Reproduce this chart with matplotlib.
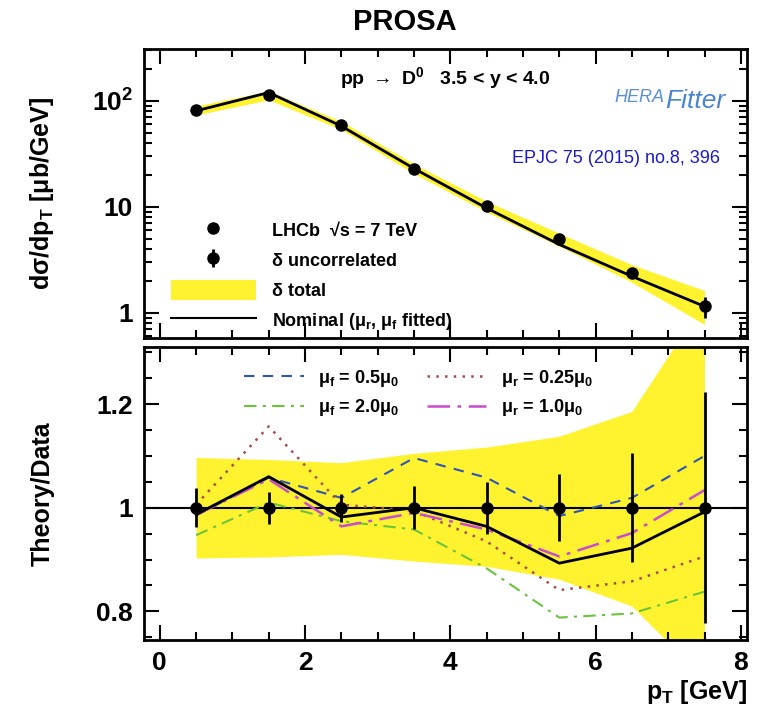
import matplotlib
matplotlib.use("Agg")
import matplotlib.pyplot as plt
from matplotlib.lines import Line2D
from matplotlib.patches import Patch
from matplotlib.ticker import MultipleLocator, FixedLocator, NullFormatter, LogLocator

plt.rcParams['font.family'] = ['Liberation Sans', 'DejaVu Sans']
plt.rcParams['font.weight'] = 'bold'
plt.rcParams['mathtext.fontset'] = 'custom'
plt.rcParams['mathtext.rm'] = 'Liberation Sans:bold'
plt.rcParams['mathtext.it'] = 'Liberation Sans:bold:italic'
plt.rcParams['mathtext.bf'] = 'Liberation Sans:bold'

# ---------------- data ----------------
pt = [0.5, 1.5, 2.5, 3.5, 4.5, 5.5, 6.5, 7.5]
xsec = [81.6, 113.0, 58.9, 23.0, 10.1, 4.95, 2.40, 1.16]
rel_unc = [0.038, 0.031, 0.027, 0.041, 0.050, 0.065, 0.105, 0.223]
band_hi = [1.097, 1.093, 1.087, 1.105, 1.117, 1.138, 1.186, 1.40]
band_lo = [0.903, 0.905, 0.910, 0.897, 0.887, 0.862, 0.810, 0.67]
ratio_nominal = [0.987, 1.060, 0.982, 1.000, 0.964, 0.893, 0.922, 0.992]
ratio_muf05 = [0.985, 1.058, 1.019, 1.096, 1.058, 0.984, 1.019, 1.100]
ratio_mur025 = [1.006, 1.157, 1.006, 0.994, 0.935, 0.841, 0.858, 0.906]
ratio_muf20 = [0.947, 1.010, 0.974, 0.958, 0.883, 0.788, 0.796, 0.838]
ratio_mur10 = [0.986, 1.055, 0.964, 0.990, 0.958, 0.906, 0.951, 1.034]

yellow = '#fff22e'

fig = plt.figure(figsize=(7.65, 7.07), dpi=100)
ax1 = fig.add_axes([0.188, 0.522, 0.788, 0.409])
ax2 = fig.add_axes([0.188, 0.095, 0.788, 0.414])

xlim = (-0.22, 8.08)

# ---------------- top panel ----------------
top_hi = [v * b for v, b in zip(xsec, band_hi)]
top_lo = [v * b for v, b in zip(xsec, band_lo)]
theory = [v * r for v, r in zip(xsec, ratio_nominal)]
err = [v * e for v, e in zip(xsec, rel_unc)]
ax1.fill_between(pt, top_lo, top_hi, color=yellow, lw=0, zorder=1)
ax1.plot(pt, theory, color='black', lw=2, zorder=3)
ax1.errorbar(pt, xsec, yerr=err, fmt='o', color='black', ms=8, elinewidth=2,
             capsize=0, zorder=4)
ax1.set_yscale('log')
ax1.set_ylim(0.58, 310)
ax1.set_xlim(*xlim)
ax1.yaxis.set_major_locator(FixedLocator([1, 10, 100]))
ax1.set_yticklabels(['1', '10', '10$^{\\mathrm{2}}$'])
ax1.yaxis.set_minor_locator(LogLocator(base=10, subs=range(2, 10)))
ax1.yaxis.set_minor_formatter(NullFormatter())
ax1.xaxis.set_major_locator(MultipleLocator(2))
ax1.xaxis.set_minor_locator(MultipleLocator(0.5))
ax1.set_xticklabels([])
ax1.set_ylabel('dσ/dp$_{\\mathrm{T}}$ [μb/GeV]', fontsize=18, fontweight='bold', labelpad=26)

ax1.text(0.5, 0.9, 'pp $\\rightarrow$ D$^{\\mathrm{0}}$   3.5 < y < 4.0', transform=ax1.transAxes,
         ha='center', va='center', fontsize=14, fontweight='bold')
ax1.text(0.955, 0.62, 'EPJC 75 (2015) no.8, 396', transform=ax1.transAxes,
         ha='right', va='center', fontsize=13, fontweight='normal', color='#1a1acc')
ax1.text(0.78, 0.83, 'HERA', transform=ax1.transAxes, ha='left', va='center',
         fontsize=13, fontstyle='italic', fontweight='normal', color='#5b8fd6')
ax1.text(0.865, 0.82, 'Fitter', transform=ax1.transAxes, ha='left', va='center',
         fontsize=19, fontstyle='italic', fontweight='normal', color='#4a84d0')

h_data = Line2D([], [], marker='o', color='black', ls='none', ms=8)
h_unc = ax1.errorbar([], [], yerr=[], fmt='o', color='black', ms=8, elinewidth=2)
h_tot = Patch(facecolor=yellow, edgecolor='none')
h_nom = Line2D([], [], color='black', lw=1.5)
leg1 = ax1.legend([h_data, h_unc, h_tot, h_nom],
                  ['LHCb  √s = 7 TeV', 'δ uncorrelated', 'δ total',
                   'Nominal (μ$_{\\mathrm{r}}$, μ$_{\\mathrm{f}}$ fitted)'],
                  loc='lower left', bbox_to_anchor=(0.018, -0.035), frameon=False,
                  prop={'size': 13, 'weight': 'bold'}, handlelength=4.7,
                  handleheight=1.3, handletextpad=0.9, labelspacing=0.55)

# ---------------- bottom panel ----------------
ax2.fill_between(pt, band_lo, band_hi, color=yellow, lw=0, zorder=1)
ax2.axhline(1.0, color='black', lw=1.5, zorder=2)
l1, = ax2.plot(pt, ratio_muf05, color='#2f55b5', lw=1.5, ls=(0, (5, 4)), zorder=3)
l2, = ax2.plot(pt, ratio_mur025, color='#a84a4a', lw=1.8, ls=(0, (1, 2.5)), zorder=3)
l3, = ax2.plot(pt, ratio_muf20, color='#6cc43c', lw=1.5, ls=(0, (6, 3, 1.5, 3)), zorder=3)
l4, = ax2.plot(pt, ratio_mur10, color='#c84cd0', lw=1.8, ls=(0, (9, 3, 1.5, 3)), zorder=3)
ax2.plot(pt, ratio_nominal, color='black', lw=2, zorder=4)
ax2.errorbar(pt, [1.0] * len(pt), yerr=rel_unc, fmt='o', color='black', ms=8,
             elinewidth=2, capsize=0, zorder=5)
ax2.set_xlim(*xlim)
ax2.set_ylim(0.745, 1.31)
ax2.yaxis.set_major_locator(FixedLocator([0.8, 1.0, 1.2]))
ax2.set_yticklabels(['0.8', '1', '1.2'])
ax2.yaxis.set_minor_locator(MultipleLocator(0.05))
ax2.xaxis.set_major_locator(MultipleLocator(2))
ax2.xaxis.set_minor_locator(MultipleLocator(0.5))
ax2.set_ylabel('Theory/Data', fontsize=18, fontweight='bold', labelpad=30)
ax2.set_xlabel('p$_{\\mathrm{T}}$ [GeV]', fontsize=18, fontweight='bold', loc='right', labelpad=2)

leg2 = ax2.legend([l1, l3, l2, l4],
                  ['μ$_{\\mathrm{f}}$ = 0.5μ$_{\\mathrm{0}}$', 'μ$_{\\mathrm{f}}$ = 2.0μ$_{\\mathrm{0}}$',
                   'μ$_{\\mathrm{r}}$ = 0.25μ$_{\\mathrm{0}}$', 'μ$_{\\mathrm{r}}$ = 1.0μ$_{\\mathrm{0}}$'],
                  ncol=2, loc='upper left', bbox_to_anchor=(0.14, 0.985), frameon=False,
                  prop={'size': 13, 'weight': 'bold'}, handlelength=3.3,
                  handletextpad=0.8, columnspacing=1.5, labelspacing=0.45)

for ax in (ax1, ax2):
    for sp in ax.spines.values():
        sp.set_linewidth(2)
    ax.tick_params(which='both', direction='in', top=True, right=True, width=1.5)
    ax.tick_params(which='major', length=11, labelsize=19, pad=8)
    ax.tick_params(which='minor', length=6)
    for lab in ax.get_xticklabels() + ax.get_yticklabels():
        lab.set_fontweight('bold')

fig.text(405 / 765, 1 - 22 / 707, 'PROSA', ha='center', va='center', fontsize=21, fontweight='bold')

fig.savefig('out.png', dpi=100)
